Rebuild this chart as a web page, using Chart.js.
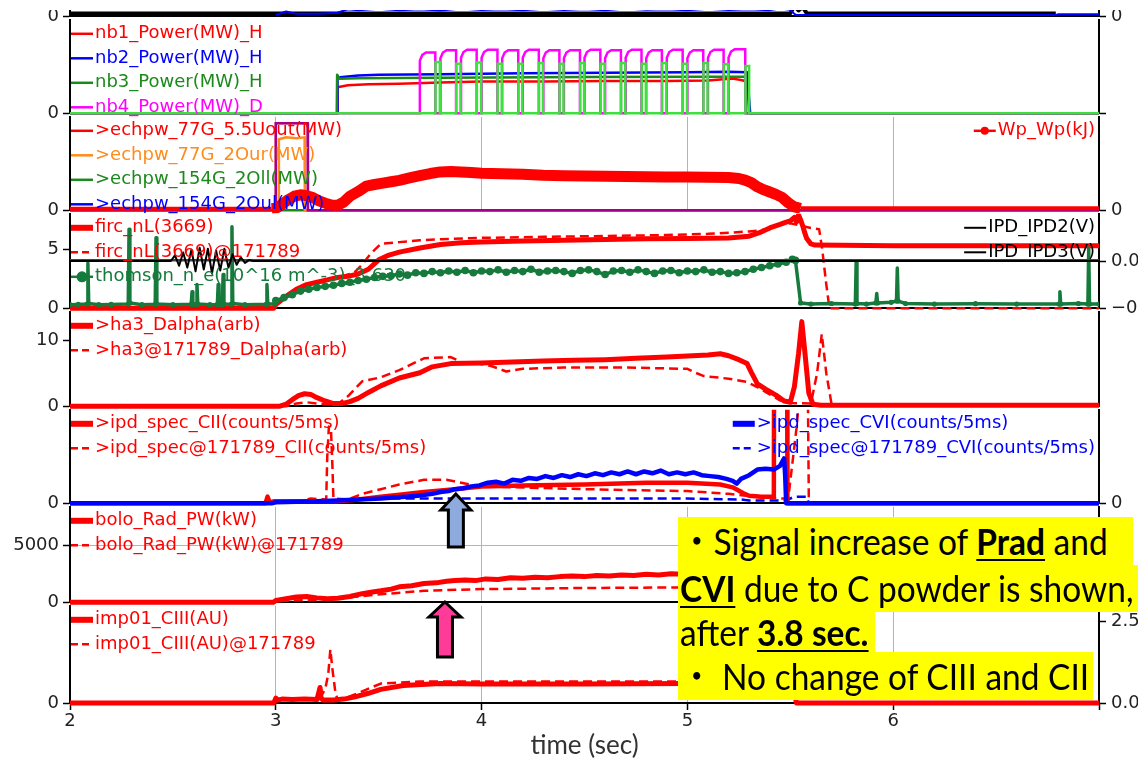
<!DOCTYPE html>
<html><head><meta charset="utf-8">
<script src="https://cdn.jsdelivr.net/npm/chart.js@4/dist/chart.umd.min.js"></script>
<style>
html,body{margin:0;padding:0;background:#fff;}
#wrap{position:relative;width:1138px;height:758px;overflow:hidden;background:#fff;}
#wrap canvas{position:absolute;left:0;}
.hl{position:absolute;left:678px;background:#ffff00;font-family:Lato,'Noto Sans CJK JP',sans-serif;font-size:36px;color:#000;white-space:nowrap;padding-left:2px;box-sizing:border-box;z-index:20;overflow:visible;}
.hl span.in{display:inline-block;transform:scaleX(0.93);transform-origin:0 50%;}
.hl b{font-weight:700;text-decoration:underline;text-decoration-thickness:2px;text-underline-offset:4px;}
#topmask{position:absolute;left:0;top:0;width:1138px;height:10px;background:#fff;z-index:15;}
#arrows{position:absolute;left:0;top:0;z-index:18;}
</style></head><body><div id="wrap"><div id="topmask"></div></div>
<script>
// ---------------- DATA ----------------
const xTickValues = [2, 3, 4, 5, 6, 7];
const xTickLabels = ['2', '3', '4', '5', '6', ''];

// top strip (cut panel)
const tTopK = [2.0, 5.50, 5.52, 5.54, 5.56, 5.58, 6.79];
const topK  = [0.12, 0.12, 0.45, 0.25, 0.40, 0.12, 0.12];
const tTopB = [3.00,3.05,3.10,3.20,3.30,3.35,3.40,3.50,3.60,3.70,3.80,3.90,4.00,4.10,4.20,4.30,4.40,4.50,4.60,4.70,4.80,4.90,5.00,5.10,5.20,5.30,5.40,5.45,5.50,5.52,5.53,6.79,6.80,7.00];
const topB  = [0.05,0.20,0.10,0.10,0.15,0.30,0.25,0.32,0.26,0.30,0.24,0.33,0.27,0.30,0.25,0.32,0.27,0.31,0.26,0.33,0.28,0.30,0.25,0.32,0.27,0.30,0.26,0.33,0.28,0.10,0.05,0.05,0.08,0.08];

// NBI power
const tNb1 = [2.0, 3.298, 3.30, 3.35, 3.45, 3.60, 3.80, 4.00, 4.30, 4.60, 4.90, 5.10, 5.19, 5.22, 5.26, 5.29, 5.30, 7.0];
const nb1  = [0, 0, 1.11, 1.20, 1.24, 1.26, 1.32, 1.36, 1.36, 1.38, 1.38, 1.40, 1.46, 1.48, 1.42, 1.36, 0, 0];
const tNb2 = [2.0, 3.298, 3.30, 3.40, 3.50, 3.80, 4.20, 4.60, 5.00, 5.20, 5.29, 5.305, 7.0];
const nb2  = [0, 0, 1.53, 1.61, 1.65, 1.67, 1.71, 1.73, 1.75, 1.77, 1.75, 0, 0];
const tNb3 = [2.0, 3.296, 3.298, 3.31, 3.40, 3.80, 4.50, 5.10, 5.28, 5.285, 7.0];
const nb3  = [0, 0, 1.65, 1.48, 1.50, 1.52, 1.55, 1.56, 1.56, 0, 0];
const tNb4 = [2.0,
 3.700,3.700,3.712,3.730,3.775,3.775,
 3.800,3.800,3.812,3.830,3.876,3.876,
 3.900,3.900,3.912,3.930,3.976,3.976,
 4.000,4.000,4.012,4.030,4.077,4.077,
 4.100,4.100,4.112,4.130,4.178,4.178,
 4.200,4.200,4.212,4.230,4.278,4.278,
 4.300,4.300,4.312,4.330,4.378,4.378,
 4.400,4.400,4.412,4.430,4.478,4.478,
 4.500,4.500,4.512,4.530,4.577,4.577,
 4.600,4.600,4.612,4.630,4.677,4.677,
 4.700,4.700,4.712,4.730,4.777,4.777,
 4.800,4.800,4.812,4.830,4.876,4.876,
 4.900,4.900,4.912,4.930,4.977,4.977,
 5.000,5.000,5.012,5.030,5.077,5.077,
 5.100,5.100,5.112,5.130,5.176,5.176,
 5.200,5.200,5.212,5.230,5.281,5.281,
 7.0];
const nb4 = [0,
 0,2.25,2.50,2.60,2.60,0,
 0,2.35,2.60,2.70,2.70,0,
 0,2.37,2.62,2.72,2.72,0,
 0,2.37,2.62,2.72,2.72,0,
 0,2.35,2.60,2.70,2.70,0,
 0,2.37,2.62,2.72,2.72,0,
 0,2.35,2.60,2.70,2.70,0,
 0,2.35,2.60,2.70,2.70,0,
 0,2.37,2.62,2.72,2.72,0,
 0,2.35,2.60,2.70,2.70,0,
 0,2.37,2.62,2.72,2.72,0,
 0,2.35,2.60,2.70,2.70,0,
 0,2.37,2.62,2.72,2.72,0,
 0,2.35,2.60,2.70,2.70,0,
 0,2.37,2.62,2.72,2.72,0,
 0,2.39,2.64,2.74,2.74,0,
 0];
const tNb5 = [2.0,
 3.776,3.776,3.797,3.797, 3.877,3.877,3.898,3.898, 3.977,3.977,3.998,3.998, 4.078,4.078,4.098,4.098,
 4.179,4.179,4.198,4.198, 4.279,4.279,4.298,4.298, 4.379,4.379,4.398,4.398, 4.479,4.479,4.498,4.498,
 4.578,4.578,4.598,4.598, 4.678,4.678,4.698,4.698, 4.778,4.778,4.798,4.798, 4.877,4.877,4.898,4.898,
 4.978,4.978,4.998,4.998, 5.078,5.078,5.098,5.098, 5.177,5.177,5.198,5.198, 5.282,5.282,5.300,5.300,
 7.0];
const nb5 = [0,
 0,2.19,2.19,0, 0,2.12,2.12,0, 0,2.17,2.17,0, 0,2.12,2.12,0,
 0,2.12,2.12,0, 0,2.15,2.15,0, 0,2.12,2.12,0, 0,2.15,2.15,0,
 0,2.12,2.12,0, 0,2.15,2.15,0, 0,2.12,2.12,0, 0,2.15,2.15,0,
 0,2.12,2.12,0, 0,2.15,2.15,0, 0,2.10,2.10,0, 0,2.02,2.02,0,
 0];

// ECH power and stored energy
const tEch   = [2.0, 2.999, 3.0, 3.155, 3.156, 7.0];
const ech77U = [0, 0, 0.93, 0.93, 0, 0];
const ech154Ou = [0, 0, 0.93, 0.93, 0, 0];
const tEchOr = [2.0, 3.014, 3.015, 3.05, 3.10, 3.14, 3.141, 7.0];
const ech77Or = [0, 0, 0.76, 0.78, 0.77, 0.78, 0, 0];
const tEchG  = [2.0, 7.0];
const ech154Ol = [0, 0];
const tWp = [2.00,2.98,3.00,3.03,3.06,3.09,3.12,3.15,3.18,3.21,3.24,3.27,3.30,3.33,3.36,3.40,3.44,3.48,3.52,3.56,3.60,3.65,3.70,3.75,3.80,3.85,3.90,3.95,4.00,4.10,4.20,4.30,4.40,4.50,4.60,4.70,4.80,4.90,5.00,5.10,5.20,5.25,5.28,5.31,5.34,5.37,5.40,5.43,5.46,5.49,5.52,5.55,6.00,6.50,7.00];
const wp  = [6,6,8,25,45,60,66,62,54,40,30,22,21,35,60,80,103,110,116,122,128,138,148,157,164,166,164,161,158,156,154,150,148,147,145,144,143,142,142,141,140,136,129,118,100,88,78,68,55,32,14,8,8,8,8];

// line density, Thomson, IPD
const tFirc = [2.00,2.99,3.00,3.05,3.10,3.15,3.20,3.25,3.30,3.35,3.40,3.45,3.50,3.55,3.60,3.70,3.80,3.90,4.00,4.20,4.40,4.60,4.80,5.00,5.20,5.30,5.35,5.40,5.45,5.48,5.50,5.52,5.53,5.54,5.55,5.56,5.57,5.58,5.60,5.62,6.00,6.50,7.00];
const firc  = [0,0,0.3,1.0,1.6,2.0,2.2,2.4,2.6,2.7,2.9,3.3,4.1,4.5,4.75,5.1,5.4,5.55,5.62,5.70,5.76,5.82,5.88,5.90,5.95,6.10,6.40,6.80,7.10,7.30,7.40,7.70,7.30,7.90,7.50,7.00,6.40,5.90,5.45,5.35,5.30,5.30,5.30];
const tFircRef = [2.00,2.99,3.00,3.10,3.20,3.30,3.38,3.42,3.46,3.51,3.60,3.70,3.80,4.00,4.30,4.60,4.90,5.10,5.30,5.40,5.45,5.50,5.55,5.60,5.64,5.655,5.675,5.69,6.00,7.00];
const fircRef  = [0,0,0.3,1.5,2.2,2.6,3.0,3.7,4.6,5.45,5.60,5.75,5.85,5.96,6.05,6.12,6.20,6.30,6.50,6.70,7.10,7.20,7.00,6.80,6.70,5.00,2.00,0,0,0];
const tThom = [
 2.000,2.040,2.083,2.087,2.091,2.140,2.200,2.283,2.287,2.291,
 2.350,2.414,2.418,2.422,2.500,2.589,2.593,2.597,2.613,2.617,
 2.621,2.680,2.716,2.720,2.724,2.740,2.744,2.748,2.783,2.787,
 2.791,2.850,2.953,2.957,2.961,2.995,
 3.00,3.04,3.08,3.12,3.16,3.20,3.24,3.28,3.32,3.36,
 3.40,3.44,3.48,3.52,3.56,3.60,3.64,3.68,3.72,3.76,
 3.80,3.84,3.88,3.92,3.96,4.00,4.04,4.08,4.12,4.16,
 4.20,4.24,4.28,4.32,4.36,4.40,4.44,4.48,4.52,4.56,
 4.60,4.64,4.68,4.72,4.76,4.80,4.84,4.88,4.92,4.96,
 5.00,5.04,5.08,5.12,5.16,5.20,5.24,5.28,5.32,5.36,
 5.40,5.44,5.48,5.51,5.525,5.55,
 5.600,5.700,5.816,5.820,5.824,5.870,5.916,5.920,5.924,5.990,
 6.016,6.020,6.024,6.060,6.200,6.400,6.600,6.806,6.810,6.814,
 6.900,6.946,6.950,6.954,7.000];
const thom = [
 0.30,0.32,0.35,3.80,0.40,0.30,0.32,0.35,6.70,0.45,
 0.30,0.33,5.96,0.35,0.30,0.33,1.40,0.33,0.32,2.00,
 0.35,0.30,0.32,2.00,0.32,0.32,2.86,0.35,0.33,6.90,
 0.40,0.30,0.33,2.00,0.35,0.35,
 0.65,0.90,1.15,1.45,1.60,1.75,1.85,1.95,2.10,2.20,
 2.35,2.45,2.60,2.70,2.75,2.90,2.80,3.00,2.95,3.10,
 3.00,3.15,3.05,3.20,3.00,3.15,3.10,3.25,3.05,3.20,
 3.10,3.30,3.05,3.15,3.20,3.10,2.95,3.20,3.25,3.10,
 2.85,3.15,3.20,3.05,3.25,3.10,2.95,3.15,3.20,3.00,
 3.15,3.10,3.25,3.05,3.10,2.95,3.00,3.10,3.30,3.45,
 3.60,3.75,3.90,4.15,4.05,0.45,
 0.35,0.40,0.35,3.90,0.40,0.35,0.45,1.25,0.45,0.50,
 0.60,3.40,0.60,0.40,0.35,0.38,0.35,0.35,1.40,0.35,
 0.40,0.35,5.10,0.35,0.35];
const tIpd2 = [2.00,2.49,2.51,2.53,2.55,2.57,2.59,2.61,2.63,2.65,2.67,2.69,2.71,2.73,2.75,2.77,2.79,2.81,2.83,2.85,2.87,2.89,7.00];
const ipd2  = [0,0,0.06,-0.05,0.09,-0.07,0.12,-0.11,0.14,-0.09,0.13,-0.13,0.11,-0.10,0.13,-0.07,0.07,-0.04,0.04,-0.02,0.01,0,0];
const tIpd3 = [2.0, 7.0];
const ipd3  = [0.008, 0.008];

// D-alpha
const tHa = [2.00,3.02,3.05,3.08,3.11,3.14,3.17,3.20,3.24,3.28,3.32,3.36,3.40,3.45,3.51,3.60,3.70,3.76,3.85,4.00,4.15,4.30,4.45,4.60,4.75,4.90,5.00,5.10,5.16,5.20,5.25,5.29,5.31,5.34,5.38,5.43,5.47,5.50,5.52,5.54,5.556,5.57,5.59,5.61,5.65,7.00];
const ha3 = [0,0,0.3,1.0,1.6,1.9,1.8,1.3,0.8,0.4,0.4,0.7,1.2,2.1,3.1,4.3,5.1,6.0,6.5,6.6,6.75,6.9,7.0,7.1,7.3,7.5,7.65,7.8,8.0,7.7,7.1,6.5,5.2,3.4,2.6,1.7,0.8,0.6,3.0,8.0,12.9,8.5,2.0,0.3,0.15,0.15];
const tHaRef = [2.00,3.05,3.10,3.15,3.20,3.25,3.30,3.35,3.42,3.51,3.60,3.72,3.85,3.91,3.97,4.05,4.12,4.20,4.40,4.70,5.00,5.04,5.08,5.20,5.29,5.34,5.40,5.45,5.50,5.60,5.63,5.653,5.675,5.70,5.75,7.00];
const ha3Ref = [0,0,0.4,0.6,0.4,0.3,0.3,1.5,3.8,4.4,5.5,7.3,7.5,6.6,6.6,6.1,5.3,5.7,5.9,5.9,5.7,5.1,4.6,4.2,3.7,2.9,1.8,0.9,0.5,0.4,5.0,11.0,5.0,0.4,0.1,0.1];

// impurity spectroscopy
const tCII = [2.00,2.95,2.96,2.97,2.99,3.10,3.20,3.30,3.40,3.51,3.60,3.72,3.87,4.00,4.20,4.50,4.80,5.00,5.16,5.22,5.27,5.30,5.36,5.42,5.421,5.485,5.486,5.50,7.00];
const cII  = [0,0,7,1,2,2,2,2,4,7,9,12,15,18,19,20,22,22,20,17,11,8,7,7,130,130,0,0,0];
const tCIIRef = [2.00,2.99,3.00,3.10,3.17,3.245,3.25,3.258,3.268,3.275,3.28,3.35,3.42,3.51,3.60,3.72,3.83,3.92,4.00,4.50,5.00,5.20,5.33,5.45,5.49,5.53,5.55,5.585,5.59,5.60,7.00];
const cIIRef  = [0,0,1,2,5,4,50,82,80,40,5,4,10,15,20,25,25,21,18,15,13,10,7,5,5,80,130,130,2,0,0];
const tCVI = [2.00,2.98,3.00,3.10,3.20,3.30,3.40,3.51,3.57,3.63,3.69,3.76,3.80,3.84,3.87,3.91,3.95,3.99,4.03,4.07,4.11,4.15,4.19,4.23,4.27,4.31,4.35,4.39,4.43,4.47,4.51,4.55,4.59,4.63,4.67,4.71,4.75,4.79,4.83,4.87,4.91,4.95,4.99,5.03,5.07,5.11,5.15,5.19,5.22,5.24,5.26,5.30,5.34,5.38,5.42,5.45,5.47,5.475,5.48,7.00];
const cVI  = [0,0,1,1.5,2,3,4,5,6,7,8,10,12,13,15,16,18,19,22,23,21,25,24,27,26,29,27,30,28,31,29,32,30,33,31,34,31,34,32,35,31,33,31,33,30,29,28,26,24,21,26,30,36,37,36,40,48,30,0,0];
const tCVIRef = [2.00,2.99,3.00,3.35,3.42,3.51,4.00,4.50,5.00,5.26,5.30,5.48,5.52,5.58,5.59,7.00];
const cVIRef  = [0,0,1,2,4,5,5,5,5,4,3,3,7,7,0,0];

// bolometer
const tBolo = [2.00,2.99,3.00,3.05,3.10,3.15,3.20,3.25,3.30,3.36,3.42,3.47,3.51,3.56,3.60,3.66,3.72,3.78,3.83,3.87,3.92,3.97,4.02,4.08,4.14,4.20,4.26,4.32,4.38,4.44,4.50,4.56,4.62,4.68,4.74,4.80,4.86,4.92,4.98,5.04,5.10,5.20,5.30,5.40,5.48,5.52,5.56,7.00];
const bolo  = [0,0,150,300,450,500,380,300,350,500,750,900,1000,1150,1350,1450,1650,1700,1850,1900,1950,1900,2050,2000,2150,2100,2200,2150,2250,2300,2250,2350,2300,2400,2350,2450,2400,2500,2450,2550,2500,2550,2600,2550,2400,900,0,0];
const tBoloRef = [2.00,2.99,3.00,3.20,3.40,3.51,3.72,3.90,4.00,4.50,5.00,5.30,5.50,5.60,7.00];
const boloRef  = [0,0,100,200,500,700,1000,1100,1150,1250,1300,1300,600,0,0];

// CIII
const tImp = [2.00,2.99,3.00,3.01,3.03,3.08,3.14,3.20,3.215,3.22,3.23,3.28,3.33,3.38,3.45,3.51,3.62,3.80,4.00,4.50,5.00,5.50,5.52,5.53,7.00];
const imp  = [0,0,0.5,0.3,0.4,0.35,0.4,0.35,1.6,0.5,0.3,0.3,0.4,0.6,1.0,1.4,1.8,2.0,1.95,1.95,2.0,2.0,1.0,0,0];
const tImpRef = [2.00,2.99,3.00,3.10,3.20,3.215,3.225,3.24,3.255,3.265,3.275,3.29,3.30,3.35,3.42,3.51,3.70,4.00,5.00,5.50,5.53,7.00];
const impRef  = [0,0,0.4,0.4,0.5,1.8,0.9,1.4,3.0,5.5,3.5,1.0,0.4,0.6,1.2,2.0,2.2,2.2,2.2,2.2,0,0];

// axis ticks per panel
const topTicks = [0], topTickLabels = ['0'];
const nbTicks = [0], nbTickLabels = ['0'];
const echTicks = [0], echTickLabels = ['0'];
const wpTicks = [0], wpTickLabels = ['0'];
const fircTicks = [0, 5], fircTickLabels = ['0', '5'];
const ipdVTicks = [-0.5, 0], ipdVTickLabels = ['\u22120.5', '0.0'];
const haTicks = [0, 10], haTickLabels = ['0', '10'];
const specTicks = [0], specTickLabels = ['0'];
const boloTicks = [0, 5000], boloTickLabels = ['0', '5000'];
const impTicks = [0], impTickLabels = ['0'];
const impRTicks = [0, 2.5], impRTickLabels = ['0.0', '2.5'];

// annotation arrows (time positions)
const arrowBlueT = 3.875, arrowPinkT = 3.822;

// ---------------- STYLE / BUILD ----------------
const RED = '#ff0000', BLUE = '#0000ff', DGREEN = '#1a8a1a', MAG = '#ff00ff', LIME = '#3ee03e', ORANGE = '#ff8c1a', TGREEN = '#157a3c';
const tickFont = { family: 'DejaVu Sans', size: 18 };
const DASH = [9, 5];

function L(label, t, v, st) {
  return Object.assign({
    label, data: t.map((x, i) => ({ x, y: v[i] })),
    pointRadius: 0, borderJoinStyle: 'round', borderCapStyle: 'butt', tension: 0, fill: false,
    yAxisID: 'y', clip: { left: 0, top: 0, right: 0, bottom: 3 }
  }, st);
}

const panelLegend = {
  id: 'panelLegend',
  afterDatasetsDraw(chart, args, opts) {
    const { ctx, chartArea: a } = chart;
    ctx.save();
    ctx.font = '18px "DejaVu Sans"';
    ctx.textBaseline = 'middle';
    const groups = { left: [], right: [] };
    chart.data.datasets.forEach(ds => { if (ds.legend) groups[ds.legend.side].push(ds); });
    ['left', 'right'].forEach(side => {
      const g = groups[side];
      if (!g.length) return;
      let tx;
      if (side === 'left') tx = a.left + 25;
      else tx = a.right - 4 - Math.max(...g.map(d => ctx.measureText(d.label).width));
      g.forEach((d, i) => {
        const lg = d.legend;
        const y = a.top + (opts.firstRow || 14) + i * (opts.rowGap || 24.5);
        ctx.beginPath();
        ctx.setLineDash(lg.dash || []);
        ctx.lineWidth = lg.width;
        ctx.strokeStyle = lg.color;
        ctx.moveTo(tx - 24, y); ctx.lineTo(tx - 2, y); ctx.stroke();
        ctx.setLineDash([]);
        if (lg.marker) { ctx.beginPath(); ctx.arc(tx - 13, y, lg.marker, 0, Math.PI * 2); ctx.fillStyle = lg.color; ctx.fill(); }
        ctx.fillStyle = lg.color;
        ctx.fillText(d.label, tx, y);
      });
    });
    ctx.restore();
  }
};
Chart.register(panelLegend);

const wpWidth = c => (c.p0.parsed.x >= 2.98 && c.p1.parsed.x <= 5.56) ? 11 : 4;
const thomRadius = c => {
  const r = c.raw; if (!r) return 0;
  if (r.x >= 3.0 && r.x <= 5.53) return 3.8;
  return r.y < 0.7 ? 2.6 : 0;
};

const panels = [
  { top: -79, bottom: 18, y: [0, 4, topTicks, topTickLabels], y2: [0, 4, topTicks, topTickLabels, true],
    datasets: [
      L('top_blue', tTopB, topB, { borderColor: BLUE, borderWidth: 2, order: 1 }),
      L('top_black', tTopK, topK, { borderColor: '#000', borderWidth: 4, order: 2 })
    ] },
  { top: 18, bottom: 115, y: [0, 4, nbTicks, nbTickLabels], y2: [0, 4, [0], [''], true],
    datasets: [
      L('nb1_Power(MW)_H', tNb1, nb1, { borderColor: RED, borderWidth: 2.5, order: 5, legend: { side: 'left', color: RED, width: 2.5 } }),
      L('nb2_Power(MW)_H', tNb2, nb2, { borderColor: BLUE, borderWidth: 2.5, order: 4, legend: { side: 'left', color: BLUE, width: 2.5 } }),
      L('nb3_Power(MW)_H', tNb3, nb3, { borderColor: DGREEN, borderWidth: 2.5, order: 3, legend: { side: 'left', color: DGREEN, width: 2.5 } }),
      L('nb4_Power(MW)_D', tNb4, nb4, { borderColor: MAG, borderWidth: 2.5, order: 2, borderJoinStyle: 'miter', legend: { side: 'left', color: MAG, width: 2.5 } }),
      L('nb5_Power(MW)', tNb5, nb5, { borderColor: LIME, borderWidth: 2.5, order: 1, borderJoinStyle: 'miter' })
    ] },
  { top: 115, bottom: 212, xGrid: true, y: [0, 1, echTicks, echTickLabels], y2: [0, 400, wpTicks, wpTickLabels, true],
    datasets: [
      L('>echpw_77G_5.5Uout(MW)', tEch, ech77U, { borderColor: RED, borderWidth: 2.5, order: 3, borderJoinStyle: 'miter', legend: { side: 'left', color: RED, width: 2.5 } }),
      L('>echpw_77G_2Our(MW)', tEchOr, ech77Or, { borderColor: ORANGE, borderWidth: 2.5, order: 4, borderJoinStyle: 'miter', legend: { side: 'left', color: ORANGE, width: 2.5 } }),
      L('>echpw_154G_2Oll(MW)', tEchG, ech154Ol, { borderColor: DGREEN, borderWidth: 2.5, order: 5, legend: { side: 'left', color: DGREEN, width: 2.5 } }),
      L('>echpw_154G_2Oul(MW)', tEch, ech154Ou, { borderColor: 'rgba(90,0,255,0.55)', borderWidth: 2.5, order: 2, borderJoinStyle: 'miter', legend: { side: 'left', color: BLUE, width: 2.5 } }),
      L('Wp_Wp(kJ)', tWp, wp, { borderColor: RED, borderWidth: 11, segment: { borderWidth: wpWidth }, order: 1, yAxisID: 'y2', legend: { side: 'right', color: RED, width: 2.5, marker: 4 } })
    ] },
  { top: 212, bottom: 310, y: [0, 8, fircTicks, fircTickLabels], y2: [-0.5, 0.5, ipdVTicks, ipdVTickLabels, true],
    datasets: [
      L('firc_nL(3669)', tFirc, firc, { borderColor: RED, borderWidth: 5, order: 3, legend: { side: 'left', color: RED, width: 6 } }),
      L('firc_nL(3669)@171789', tFircRef, fircRef, { borderColor: RED, borderWidth: 2.5, borderDash: DASH, order: 4, legend: { side: 'left', color: RED, width: 2.5, dash: [7, 4] } }),
      L('thomson_n_e(10^16 m^-3)_3.630', tThom, thom, { borderColor: TGREEN, borderWidth: 3.5, pointRadius: thomRadius, pointBackgroundColor: TGREEN, pointBorderWidth: 0, order: 2, legend: { side: 'left', color: TGREEN, width: 2.5, marker: 5.5 } }),
      L('IPD_IPD2(V)', tIpd2, ipd2, { borderColor: '#000', borderWidth: 2, order: 1, yAxisID: 'y2', legend: { side: 'right', color: '#000', width: 2 } }),
      L('IPD_IPD3(V)', tIpd3, ipd3, { borderColor: '#444', borderWidth: 2.5, order: 1.5, yAxisID: 'y2', legend: { side: 'right', color: '#000', width: 2 } })
    ] },
  { top: 310, bottom: 408, y: [0, 14.4, haTicks, haTickLabels], y2: [0, 1, [0], [''], false],
    datasets: [
      L('>ha3_Dalpha(arb)', tHa, ha3, { borderColor: RED, borderWidth: 5, order: 1, legend: { side: 'left', color: RED, width: 6 } }),
      L('>ha3@171789_Dalpha(arb)', tHaRef, ha3Ref, { borderColor: RED, borderWidth: 2.5, borderDash: DASH, order: 2, legend: { side: 'left', color: RED, width: 2.5, dash: [7, 4] } })
    ] },
  { top: 408, bottom: 505, y: [0, 100, specTicks, specTickLabels], y2: [0, 100, specTicks, specTickLabels, true],
    datasets: [
      L('>ipd_spec_CII(counts/5ms)', tCII, cII, { borderColor: RED, borderWidth: 4.5, order: 2, legend: { side: 'left', color: RED, width: 6 } }),
      L('>ipd_spec@171789_CII(counts/5ms)', tCIIRef, cIIRef, { borderColor: RED, borderWidth: 2.5, borderDash: DASH, order: 3, legend: { side: 'left', color: RED, width: 2.5, dash: [7, 4] } }),
      L('>ipd_spec_CVI(counts/5ms)', tCVI, cVI, { borderColor: BLUE, borderWidth: 4.5, order: 1, yAxisID: 'y2', legend: { side: 'right', color: BLUE, width: 6 } }),
      L('>ipd_spec@171789_CVI(counts/5ms)', tCVIRef, cVIRef, { borderColor: BLUE, borderWidth: 2.5, borderDash: DASH, order: 4, yAxisID: 'y2', legend: { side: 'right', color: BLUE, width: 2.5, dash: [7, 4] } })
    ] },
  { top: 505, bottom: 604, xGrid: true, yGrid: true, y: [0, 8390, boloTicks, boloTickLabels], y2: [0, 1, [0], [''], false],
    datasets: [
      L('bolo_Rad_PW(kW)', tBolo, bolo, { borderColor: RED, borderWidth: 5, order: 1, legend: { side: 'left', color: RED, width: 6 } }),
      L('bolo_Rad_PW(kW)@171789', tBoloRef, boloRef, { borderColor: RED, borderWidth: 2.5, borderDash: DASH, order: 2, legend: { side: 'left', color: RED, width: 2.5, dash: [7, 4] } })
    ] },
  { top: 604, bottom: 703, xGrid: true, bottomAxis: true, y: [0, 10, impTicks, impTickLabels], y2: [0, 2.98, impRTicks, impRTickLabels, true],
    datasets: [
      L('imp01_CIII(AU)', tImp, imp, { borderColor: RED, borderWidth: 5, order: 1, legend: { side: 'left', color: RED, width: 6 } }),
      L('imp01_CIII(AU)@171789', tImpRef, impRef, { borderColor: RED, borderWidth: 2.5, borderDash: DASH, order: 2, legend: { side: 'left', color: RED, width: 2.5, dash: [7, 4] } })
    ] }
];

const wrap = document.getElementById('wrap');
const charts = [];
const transparent = 'rgba(0,0,0,0)';

panels.forEach(p => {
  const padT = 14;
  const axisH = 58;
  const cv = document.createElement('canvas');
  const h = (p.bottom - p.top) + padT + (p.bottomAxis ? axisH : 14);
  cv.width = 1138; cv.height = h;
  cv.style.top = (p.top - padT) + 'px';
  cv.style.width = '1138px'; cv.style.height = h + 'px';
  wrap.appendChild(cv);
  const [yMin, yMax, yT, yL] = p.y;
  const [y2Min, y2Max, y2T, y2L, y2Marks] = p.y2;
  const chart = new Chart(cv, {
    type: 'line',
    data: { datasets: p.datasets },
    options: {
      responsive: false, animation: false, devicePixelRatio: 1, events: [],
      layout: { padding: { top: padT, bottom: p.bottomAxis ? 0 : 14, left: 0, right: 0 }, autoPadding: false },
      plugins: { legend: { display: false }, tooltip: { enabled: false }, panelLegend: { firstRow: 14, rowGap: 24.5 } },
      scales: {
        x: {
          type: 'linear', min: 2, max: 7, position: 'bottom',
          afterBuildTicks: s => { s.ticks = xTickValues.map(v => ({ value: v })); },
          afterFit: s => { s.height = p.bottomAxis ? axisH : 0; },
          grid: {
            display: true, drawOnChartArea: !!p.xGrid, drawTicks: !!p.bottomAxis, tickLength: 7,
            color: c => (c.tick && (c.tick.value === 2 || c.tick.value === 7)) ? transparent : '#b4b4b4',
            tickColor: '#000', lineWidth: 1, tickWidth: 1.5
          },
          border: { display: true, color: '#000', width: 2 },
          ticks: { display: !!p.bottomAxis, autoSkip: false, maxRotation: 0, padding: 1, font: tickFont, color: '#222',
                   callback: (v, i) => xTickLabels[i] },
          title: { display: !!p.bottomAxis, text: 'time (sec)', font: { family: 'Lato', size: 26 }, color: '#333', padding: { top: 0, bottom: 0 } }
        },
        y: {
          type: 'linear', position: 'left', min: yMin, max: yMax,
          afterFit: s => { s.width = 70; },
          afterBuildTicks: s => { s.ticks = yT.map(v => ({ value: v })); },
          ticks: { autoSkip: false, padding: 4, font: tickFont, color: '#222', callback: (v, i) => yL[i] },
          grid: { drawOnChartArea: !!p.yGrid, drawTicks: true, tickLength: 7,
                  color: c => (c.tick && c.tick.value === yMin) ? transparent : '#b4b4b4',
                  tickColor: '#000', tickWidth: 1.5, lineWidth: 1 },
          border: { display: true, color: '#000', width: 2 }
        },
        y2: {
          type: 'linear', position: 'right', min: y2Min, max: y2Max,
          afterFit: s => { s.width = 39; },
          afterBuildTicks: s => { s.ticks = y2T.map(v => ({ value: v })); },
          ticks: { autoSkip: false, padding: 5, font: tickFont, color: '#222', callback: (v, i) => y2L[i] },
          grid: { drawOnChartArea: false, drawTicks: true, tickLength: 7, color: transparent,
                  tickColor: y2Marks ? '#000' : transparent, tickWidth: 1.5 },
          border: { display: true, color: '#000', width: 2 }
        }
      }
    }
  });
  charts.push(chart);
});

// annotation arrows (x from the time scale)
const xs = charts[charts.length - 1].scales.x;
function upArrow(cx, tip, headBase, bottom, hh, sh, fill) {
  const pts = [[cx, tip], [cx + hh, headBase], [cx + sh, headBase], [cx + sh, bottom], [cx - sh, bottom], [cx - sh, headBase], [cx - hh, headBase]];
  return '<polygon points="' + pts.map(q => q.join(',')).join(' ') + '" fill="' + fill + '" stroke="#000" stroke-width="3" stroke-linejoin="miter"/>';
}
const bx = xs.getPixelForValue(arrowBlueT), pxp = xs.getPixelForValue(arrowPinkT);
const svgNS = 'http://www.w3.org/2000/svg';
const svg = document.createElementNS(svgNS, 'svg');
svg.setAttribute('id', 'arrows'); svg.setAttribute('width', '1138'); svg.setAttribute('height', '758');
svg.innerHTML = upArrow(bx, 494, 510, 547, 15, 7.5, '#8faadc') + upArrow(pxp, 602, 617, 657, 16, 7.5, '#ff3b9a');
wrap.appendChild(svg);

// text annotation
const notes = [
  { top: 517, h: 48, w: 455, html: '\u30fbSignal increase of <b>Prad</b> and' },
  { top: 565, h: 47, w: 470, html: '<b>CVI</b> due to C powder is shown,' },
  { top: 612, h: 40, w: 197, html: 'after <b>3.8 sec.</b>' },
  { top: 652, h: 48, w: 415, html: '\u30fb No change of CIII and CII' }
];
notes.forEach(n => {
  const d = document.createElement('div');
  d.className = 'hl';
  d.style.top = n.top + 'px'; d.style.height = n.h + 'px'; d.style.lineHeight = n.h + 'px'; d.style.width = n.w + 'px';
  d.innerHTML = '<span class="in">' + n.html + '</span>';
  wrap.appendChild(d);
});
</script>
</body></html>
